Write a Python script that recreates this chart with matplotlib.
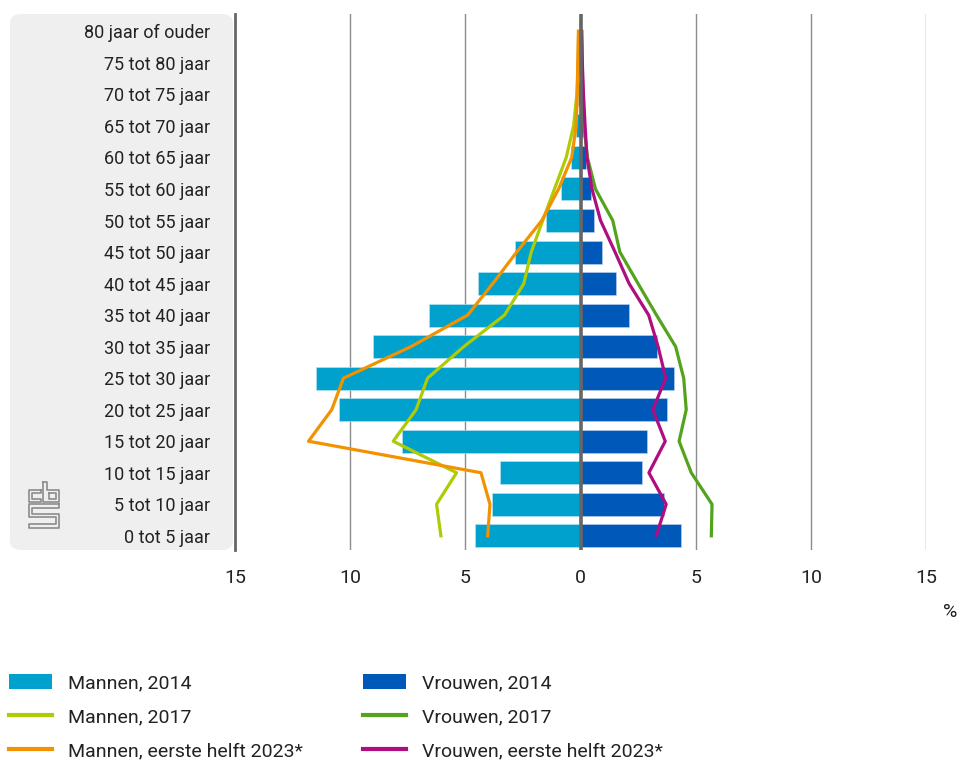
import numpy as np
import matplotlib
matplotlib.use("Agg")
import matplotlib.pyplot as plt
from matplotlib.patches import FancyBboxPatch, Patch
from matplotlib.lines import Line2D

# leeftijdsgroepen (van jong naar oud)
leeftijd = ["0 tot 5 jaar", "5 tot 10 jaar", "10 tot 15 jaar", "15 tot 20 jaar",
            "20 tot 25 jaar", "25 tot 30 jaar", "30 tot 35 jaar", "35 tot 40 jaar",
            "40 tot 45 jaar", "45 tot 50 jaar", "50 tot 55 jaar", "55 tot 60 jaar",
            "60 tot 65 jaar", "65 tot 70 jaar", "70 tot 75 jaar", "75 tot 80 jaar",
            "80 jaar of ouder"]

# aandeel in % (mannen links, vrouwen rechts)
mannen_2014 = [4.57, 3.84, 3.49, 7.75, 10.47, 11.49, 9.0, 6.57, 4.43, 2.83, 1.5, 0.86,
               0.42, 0.2, 0.1, 0.06, 0.05]
vrouwen_2014 = [4.35, 3.62, 2.67, 2.88, 3.77, 4.06, 3.33, 2.11, 1.53, 0.95, 0.6, 0.44,
                0.23, 0.1, 0.06, 0.04, 0.03]
mannen_2017 = [6.06, 6.25, 5.38, 8.13, 7.14, 6.64, 5.07, 3.30, 2.46, 2.14, 1.64, 1.13,
               0.62, 0.3, 0.16, 0.1, 0.08]
vrouwen_2017 = [5.68, 5.71, 4.81, 4.28, 4.59, 4.48, 4.13, 3.3, 2.5, 1.71, 1.40, 0.65,
                0.3, 0.15, 0.1, 0.07, 0.05]
mannen_2023 = [4.03, 3.93, 4.32, 11.81, 10.80, 10.29, 7.36, 4.90, 3.81, 2.77, 1.68, 0.95,
               0.38, 0.19, 0.14, 0.12, 0.09]
vrouwen_2023 = [3.29, 3.72, 2.97, 3.68, 3.14, 3.7, 3.37, 2.96, 2.11, 1.5, 0.87, 0.5,
                0.28, 0.2, 0.13, 0.08, 0.05]

tick_waarden = [-15, -10, -5, 0, 5, 10, 15]

plt.rcParams['font.family'] = ['Roboto', 'DejaVu Sans']

W, H = 959, 760
fig = plt.figure(figsize=(W / 100, H / 100), dpi=100)

# grijs vlak achter de labels
paneel = FancyBboxPatch((10 / W, 1 - 550 / H), 223 / W, 536 / H,
                        boxstyle="round,pad=0,rounding_size=0.012",
                        transform=fig.transFigure, facecolor="#efefef",
                        edgecolor="none", zorder=-1)
fig.patches.append(paneel)

ax = fig.add_axes([235 / W, 1 - 550 / H, 691 / W, 536 / H])
ax.set_facecolor("none")
y = np.arange(len(leeftijd))

ax.barh(y, -np.array(mannen_2014), height=0.73, color="#00a1cd",
        edgecolor="#bfe6f2", linewidth=0.4, zorder=2)
ax.barh(y, vrouwen_2014, height=0.73, color="#0058b8",
        edgecolor="#bfd4ee", linewidth=0.4, zorder=2)
ax.plot(-np.array(mannen_2017), y, color="#afcb05", lw=2.3, zorder=3)
ax.plot(vrouwen_2017, y, color="#53a31d", lw=2.3, zorder=3)
ax.plot(-np.array(mannen_2023), y, color="#f39200", lw=2.3, zorder=4)
ax.plot(vrouwen_2023, y, color="#af0e80", lw=2.3, zorder=4)

ax.set_xlim(-15, 15)
ax.set_ylim(-0.45, 16.55)
for v in [-10, -5, 5, 10, 15]:
    ax.axvline(v, color="#8c8c8c", lw=1.0, zorder=1)
ax.axvline(0, color="#666666", lw=2.6, zorder=5)

for s in ["top", "right", "bottom"]:
    ax.spines[s].set_visible(False)
ax.spines["left"].set_color("#666666")
ax.spines["left"].set_linewidth(2.0)

ax.set_yticks(y)
ax.set_yticklabels(leeftijd, fontsize=13, color="#222222")
ax.tick_params(axis="y", length=0, pad=18)
ax.set_xticks(tick_waarden)
ax.set_xticklabels([str(abs(t)) for t in tick_waarden], fontsize=14, color="#222222")
ax.tick_params(axis="x", length=0, pad=14)

fig.text(950 / W, 1 - 612 / H, "%", fontsize=14, ha="center", va="center", color="#222222")

# cbs logo (omtreklijnen, in pixels x3 vanaf (20, 475))
def px(pts):
    pts = pts + [pts[0]]
    xs = [(20 + p[0] / 3) / W for p in pts]
    ys = [1 - (475 + p[1] / 3) / H for p in pts]
    return xs, ys

logo = [
    [(62, 45), (27, 45), (27, 80), (62, 80), (62, 72), (35, 72), (35, 53), (62, 53)],
    [(70, 20), (80, 20), (80, 45), (117, 45), (117, 80), (70, 80)],
    [(88, 53), (109, 53), (109, 72), (88, 72)],
    [(117, 88), (27, 88), (27, 126), (107, 126), (107, 148), (27, 148), (27, 158),
     (117, 158), (117, 116), (37, 116), (37, 98), (117, 98)],
]
for pts in logo:
    xs, ys = px(pts)
    fig.add_artist(Line2D(xs, ys, transform=fig.transFigure, color="#8c8c8c", lw=1.2))

handles = [
    Patch(facecolor="#00a1cd", label="Mannen, 2014"),
    Line2D([], [], color="#afcb05", lw=3, label="Mannen, 2017"),
    Line2D([], [], color="#f39200", lw=3, label="Mannen, eerste helft 2023*"),
    Patch(facecolor="#0058b8", label="Vrouwen, 2014"),
    Line2D([], [], color="#53a31d", lw=3, label="Vrouwen, 2017"),
    Line2D([], [], color="#af0e80", lw=3, label="Vrouwen, eerste helft 2023*"),
]
fig.legend(handles=handles, ncol=2, loc="upper left",
           bbox_to_anchor=(9 / W, 1 - 674 / H), frameon=False, fontsize=14,
           borderpad=0, borderaxespad=0,
           handlelength=2.2, handleheight=0.82, handletextpad=0.82,
           columnspacing=3.1, labelspacing=0.8, labelcolor="#222222")

fig.savefig("out.png", dpi=100)
